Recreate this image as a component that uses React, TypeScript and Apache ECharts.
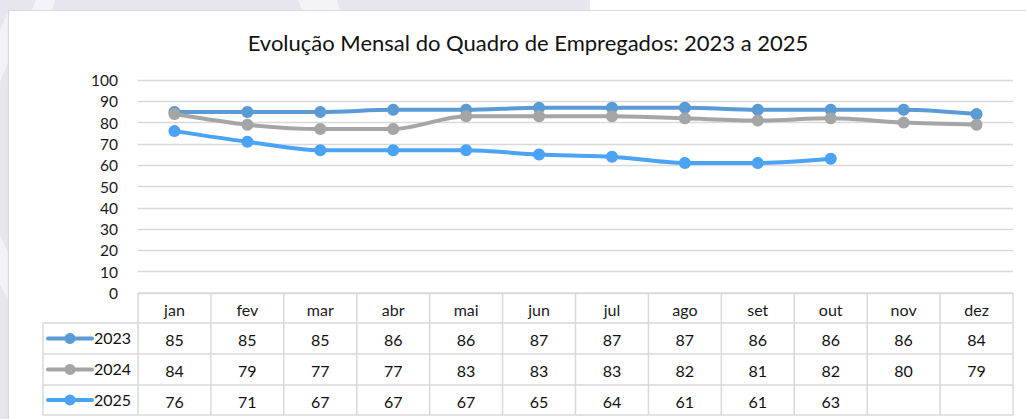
import React, { useEffect, useRef } from "react";
import * as echarts from "echarts";

const months = ["jan", "fev", "mar", "abr", "mai", "jun", "jul", "ago", "set", "out", "nov", "dez"];
const seriesNames = ["2023", "2024", "2025"];
const values2023 = [85, 85, 85, 86, 86, 87, 87, 87, 86, 86, 86, 84];
const values2024 = [84, 79, 77, 77, 83, 83, 83, 82, 81, 82, 80, 79];
const values2025: (number | null)[] = [76, 71, 67, 67, 67, 65, 64, 61, 61, 63, null, null];
const seriesColors = ["#5b9bd5", "#a5a5a5", "#4ba3f6"];
const titleText = "Evolução Mensal do Quadro de Empregados: 2023 a 2025";

const W = 1026;
const H = 419;
const FONT = "Lato, 'Noto Sans', sans-serif";
const GRID_LEFT = 138;
const GRID_RIGHT = 1013;
const GRID_TOP = 80;
const GRID_BOTTOM_Y = 293;
const TABLE_LEFT = 43;
const ROW_Y = [293, 323, 354, 385, 415];
const BORDER = "#d9d9d9";
const BG = "#e6e6ef";

export default function App() {
  const ref = useRef<HTMLDivElement>(null);
  useEffect(() => {
    if (!ref.current) return;
    const chart = echarts.init(ref.current, null, { renderer: "svg" });
    const allSeries = [values2023, values2024, values2025];
    chart.setOption({
      animation: false,
      backgroundColor: "#ffffff",
      grid: {
        left: GRID_LEFT,
        right: W - GRID_RIGHT,
        top: GRID_TOP,
        bottom: H - GRID_BOTTOM_Y,
        containLabel: false,
      },
      xAxis: {
        type: "category",
        data: months,
        boundaryGap: true,
        axisLine: { show: false },
        axisTick: { show: false },
        axisLabel: { show: false },
      },
      yAxis: {
        type: "value",
        min: 0,
        max: 100,
        interval: 10,
        axisLine: { show: false },
        axisTick: { show: false },
        axisLabel: { fontFamily: FONT, fontSize: 15.5, color: "#1a1a1a", margin: 20 },
        splitLine: { lineStyle: { color: BORDER, width: 1.3 } },
      },
      series: allSeries.map((d, i) => ({
        name: seriesNames[i],
        type: "line",
        data: d,
        symbol: "circle",
        symbolSize: 12,
        smooth: 0.3,
        lineStyle: { width: 4, color: seriesColors[i] },
        itemStyle: { color: seriesColors[i] },
        connectNulls: false,
        z: 3 + i,
      })),
    });

    const xs = months.map((_, i) => chart.convertToPixel({ xAxisIndex: 0 }, i) as number);
    const colW = xs.length > 1 ? xs[1] - xs[0] : 72.9;
    const edges = xs.map((x) => x - colW / 2).concat([xs[xs.length - 1] + colW / 2]);

    const g: any[] = [];
    // page background strips & watermark
    g.push({ type: "rect", shape: { x: 0, y: 0, width: 9, height: H }, style: { fill: BG }, silent: true });
    g.push({ type: "rect", shape: { x: 0, y: 0, width: 590, height: 10 }, style: { fill: BG }, silent: true });
    g.push({ type: "polygon", shape: { points: [[36, 0], [55, 0], [52, 10], [32, 10]] }, style: { fill: "#f4f4f8" }, silent: true });
    g.push({ type: "polygon", shape: { points: [[298, 0], [337, 0], [340, 10], [302, 10]] }, style: { fill: "#f4f4f8" }, silent: true });
    g.push({ type: "polygon", shape: { points: [[0, 30], [9, 10], [9, 60], [0, 82]] }, style: { fill: "#f2f2f7" }, silent: true });
    g.push({ type: "polygon", shape: { points: [[0, 235], [9, 255], [9, 300], [0, 285]] }, style: { fill: "#f2f2f7" }, silent: true });
    // white box border
    g.push({ type: "line", shape: { x1: 8.5, y1: 10.5, x2: W, y2: 10.5 }, style: { stroke: BORDER, lineWidth: 1.2 }, silent: true });
    g.push({ type: "line", shape: { x1: 8.5, y1: 10.5, x2: 8.5, y2: H }, style: { stroke: BORDER, lineWidth: 1.2 }, silent: true });

    // title
    g.push({
      type: "text",
      x: 528,
      y: 42,
      style: { text: titleText, fontFamily: FONT, fontSize: 22, fill: "#111111", align: "center", verticalAlign: "middle" },
    });

    // table lines
    const right = edges[edges.length - 1];
    ROW_Y.forEach((y, r) => {
      g.push({
        type: "line",
        shape: { x1: r === 0 ? edges[0] : TABLE_LEFT, y1: y, x2: right, y2: y },
        style: { stroke: BORDER, lineWidth: 1.5 },
        silent: true,
      });
    });
    g.push({ type: "line", shape: { x1: TABLE_LEFT, y1: ROW_Y[1], x2: TABLE_LEFT, y2: ROW_Y[4] }, style: { stroke: BORDER, lineWidth: 1.5 }, silent: true });
    edges.forEach((x) => {
      g.push({ type: "line", shape: { x1: x, y1: ROW_Y[0], x2: x, y2: ROW_Y[4] }, style: { stroke: BORDER, lineWidth: 1.5 }, silent: true });
    });

    // header
    months.forEach((m, i) => {
      g.push({
        type: "text",
        x: xs[i],
        y: (ROW_Y[0] + ROW_Y[1]) / 2 + 1,
        style: { text: m, fontFamily: FONT, fontSize: 16, fill: "#1a1a1a", align: "center", verticalAlign: "middle" },
      });
    });

    // rows
    allSeries.forEach((d, r) => {
      const cy = (ROW_Y[r + 1] + ROW_Y[r + 2]) / 2 + 1;
      g.push({ type: "line", shape: { x1: 48, y1: cy - 1, x2: 92, y2: cy - 1 }, style: { stroke: seriesColors[r], lineWidth: 4, lineCap: "round" } });
      g.push({ type: "circle", shape: { cx: 70, cy: cy - 1, r: 5.5 }, style: { fill: seriesColors[r] } });
      g.push({
        type: "text",
        x: 94,
        y: cy - 2,
        style: { text: seriesNames[r], fontFamily: FONT, fontSize: 16, fill: "#111111", align: "left", verticalAlign: "middle" },
      });
      d.forEach((v, i) => {
        if (v === null || v === undefined) return;
        g.push({
          type: "text",
          x: xs[i],
          y: cy,
          style: { text: String(v), fontFamily: FONT, fontSize: 16, fill: "#111111", align: "center", verticalAlign: "middle" },
        });
      });
    });

    chart.setOption({ graphic: { elements: g } });
    return () => chart.dispose();
  }, []);

  return <div ref={ref} style={{ position: "absolute", left: 0, top: 0, width: W, height: H }} />;
}
